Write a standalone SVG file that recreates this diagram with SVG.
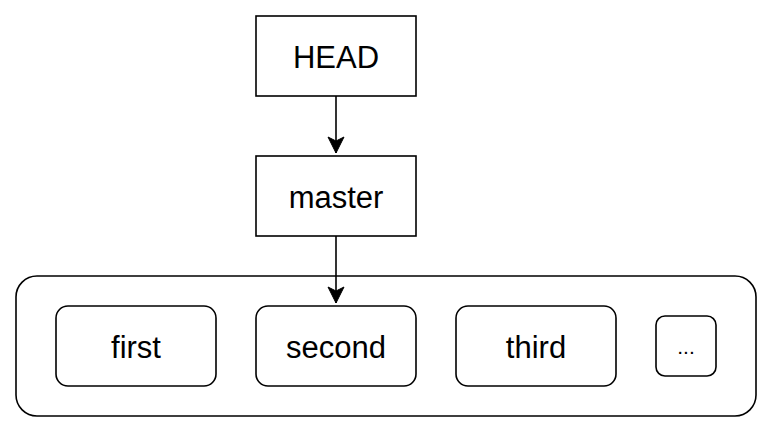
<svg xmlns="http://www.w3.org/2000/svg" width="774" height="434" viewBox="0 0 774 434">
<style>
.box{fill:#fff;stroke:#000;stroke-width:1.6}
.lbl{font-family:"Liberation Sans",Arial,sans-serif;font-size:31px;fill:#000;text-anchor:middle}
.edge{fill:none;stroke:#000;stroke-width:1.6}
</style>
<defs>
<marker id="arr" markerUnits="userSpaceOnUse" markerWidth="20" markerHeight="20" viewBox="0 0 20 20" refX="18" refY="10" orient="auto">
<path d="M2,2 L18,10 L2,18 L6,10 Z" fill="#000" stroke="#000" stroke-width="1"/>
</marker>
</defs>
<rect width="774" height="434" fill="#fff"/>
<g id="container">
<rect class="box" x="16" y="276" width="740" height="140" rx="21"/>
</g>
<g id="head">
<rect class="box" x="256" y="16" width="160" height="80"/>
<text class="lbl" x="336" y="67.5">HEAD</text>
</g>
<g id="master">
<rect class="box" x="256" y="156" width="160" height="80"/>
<text class="lbl" x="336" y="207.5">master</text>
</g>
<g id="first">
<rect class="box" x="56" y="306" width="160" height="80" rx="12"/>
<text class="lbl" x="136" y="357.5">first</text>
</g>
<g id="second">
<rect class="box" x="256" y="306" width="160" height="80" rx="12"/>
<text class="lbl" x="336" y="357.5">second</text>
</g>
<g id="third">
<rect class="box" x="456" y="306" width="160" height="80" rx="12"/>
<text class="lbl" x="536" y="357.5">third</text>
</g>
<g id="more">
<rect class="box" x="656" y="316" width="60" height="60" rx="9"/>
<text class="lbl" x="686" y="353.5" style="font-size:21px">...</text>
</g>
<g id="connectors">
<path class="edge" d="M336,96 L336,153" marker-end="url(#arr)"/>
<path class="edge" d="M336,236 L336,303" marker-end="url(#arr)"/>
</g>
</svg>
